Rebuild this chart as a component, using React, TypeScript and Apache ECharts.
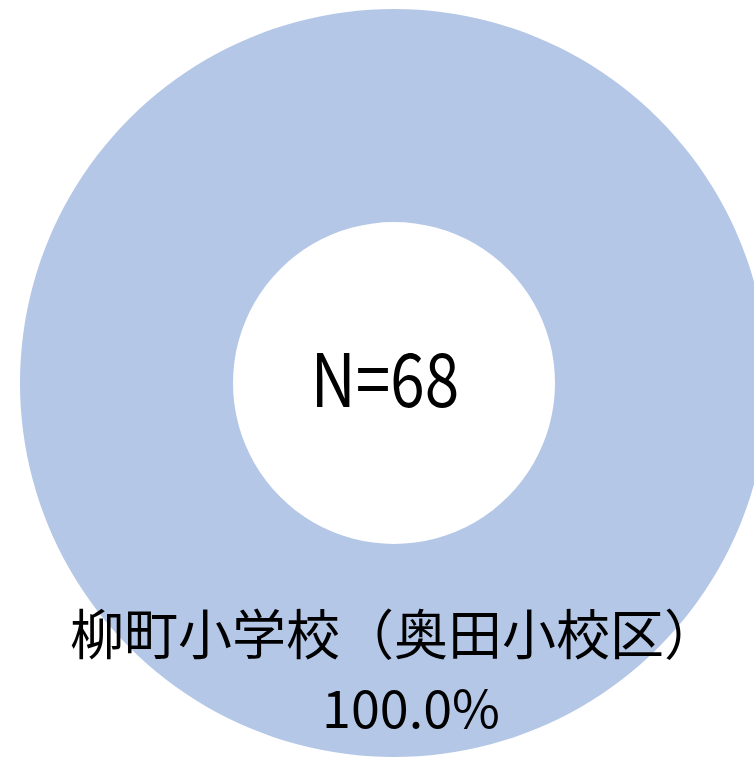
import React, { useEffect, useRef } from "react";
import * as echarts from "echarts";

const categories: string[] = ["柳町小学校（奥田小校区）"];
const values: number[] = [68];
const colors: string[] = ["#B4C7E7"];
const totalLabel = "N=68";

export default function App() {
  const ref = useRef<HTMLDivElement>(null);
  useEffect(() => {
    if (!ref.current) return;
    const chart = echarts.init(ref.current, undefined, { renderer: "svg" });
    chart.setOption({
      animation: false,
      backgroundColor: "#ffffff",
      graphic: [
        {
          type: "text",
          x: 385,
          y: 375,
          scaleX: 0.84,
          style: {
            text: totalLabel,
            fontFamily: "Noto Sans CJK JP",
            fontSize: 74,
            fill: "#000000",
            align: "center",
            verticalAlign: "middle",
          },
          z: 10,
        },
      ],
      series: [
        {
          type: "pie",
          silent: true,
          center: [394, 383],
          radius: [161, 374],
          startAngle: 90,
          clockwise: true,
          avoidLabelOverlap: false,
          itemStyle: { borderWidth: 0 },
          emphasis: { disabled: true },
          label: {
            show: true,
            position: "inside",
            rotate: 0,
            color: "#000000",
            fontFamily: "Noto Sans CJK JP",
            fontSize: 54,
            lineHeight: 74,
            padding: [30, 0, 0, 0],
            align: "center",
            formatter: (p: any) =>
              `{a|${p.name}}\n{b|${p.percent.toFixed(1)}%}`,
            rich: {
              a: {
                fontFamily: "Noto Sans CJK JP",
                fontSize: 54,
                lineHeight: 74,
                color: "#000000",
                padding: [0, 0, 0, 0],
              },
              b: {
                fontFamily: "Noto Sans CJK JP",
                fontSize: 52,
                lineHeight: 74,
                color: "#000000",
                padding: [0, 0, 0, 34],
              },
            },
          },
          labelLine: { show: false },
          data: categories.map((c, i) => ({
            name: c,
            value: values[i],
            itemStyle: { color: colors[i] },
          })),
        },
      ],
    });
    return () => chart.dispose();
  }, []);
  return (
    <div
      ref={ref}
      style={{ position: "fixed", left: 0, top: 0, width: 754, height: 759 }}
    />
  );
}
